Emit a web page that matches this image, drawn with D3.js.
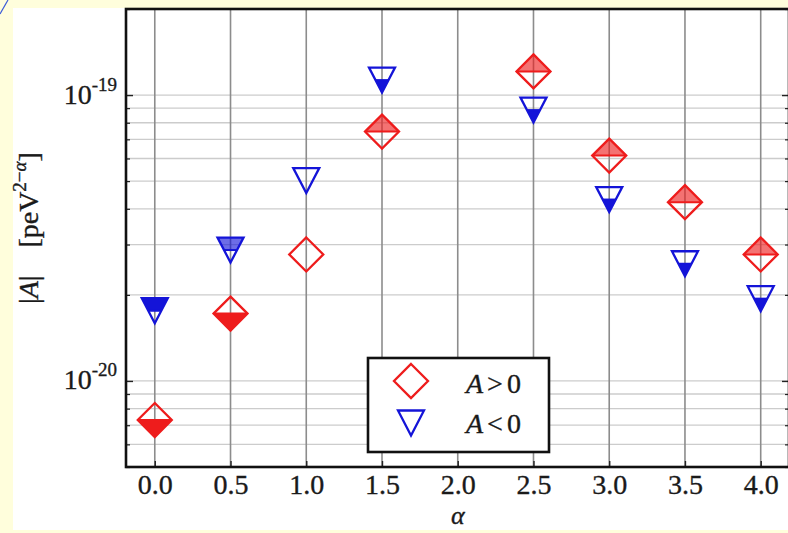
<!DOCTYPE html>
<html>
<head>
<meta charset="utf-8">
<script src="https://cdn.jsdelivr.net/npm/d3@7"></script>
<style>
  html, body { margin: 0; padding: 0; background: #fffedc; }
  svg { display: block; }
  text { stroke: #1a1a1a; stroke-width: 0.35px; }
</style>
</head>
<body>
<svg id="chart" width="788" height="533"></svg>
<script>
// ---- data ----
const alphas = [0.0, 0.5, 1.0, 1.5, 2.5, 3.0, 3.5, 4.0];
const posValues = [7.3e-21, 1.72e-20, 2.77e-20, 7.45e-20, 1.21e-19, 6.14e-20, 4.22e-20, 2.77e-20]; // A > 0
const negValues = [1.76e-20, 2.87e-20, 5.02e-20, 1.128e-19, 8.86e-20, 4.31e-20, 2.57e-20, 1.94e-20]; // A < 0
const posFill = ["lower", "lower", "none", "upperLight", "upperLight", "upperLight", "upperLight", "upperLight"];
const negFill = ["upper", "upperLight", "none", "lower", "lower", "lower", "lower", "lower"];
const xTicks = [0.0, 0.5, 1.0, 1.5, 2.0, 2.5, 3.0, 3.5, 4.0];
const yMajorTicks = [1e-20, 1e-19];
const yMajorLabels = ["-20", "-19"];
const seriesLabels = ["A > 0", "A < 0"];

(function () {
// ---- layout ----
const svg = d3.select("#chart");
const pL = 126, pT = 9, pR = 791, pB = 467;
const RED = "#ee1c1c", BLUE = "#1414d8";
const serif = "'Liberation Serif', 'DejaVu Serif', serif";

// background frame
svg.append("rect").attr("x", 0).attr("y", 0).attr("width", 788).attr("height", 533).attr("fill", "#fffedc");
svg.append("rect").attr("x", 13).attr("y", 8).attr("width", 775).attr("height", 522).attr("fill", "#ffffff");
svg.append("line").attr("x1", 0).attr("y1", 14).attr("x2", 8).attr("y2", 0).attr("stroke", "#3a5ad8").attr("stroke-width", 1.2);

const x = d3.scaleLinear().domain([-0.19, 4.2]).range([pL, pR]);
const y = d3.scaleLog().domain([5e-21, 2e-19]).range([pB, pT]);

// minor tick values
const yMinor = [];
for (let e = -21; e <= -19; e++) {
  for (let m = 2; m <= 9; m++) {
    const v = m * Math.pow(10, e);
    if (v >= 4.99e-21 && v <= 2.01e-19) yMinor.push(v);
  }
}
const yGrid = yMinor.filter(v => v < 1.9e-19).concat(yMajorTicks);

const defs = svg.append("defs");
defs.append("clipPath").attr("id", "plotClip").append("rect")
  .attr("x", pL).attr("y", pT).attr("width", pR - pL).attr("height", pB - pT);
defs.append("clipPath").attr("id", "clipUpper").append("rect")
  .attr("x", -40).attr("y", -40).attr("width", 80).attr("height", 40);
defs.append("clipPath").attr("id", "clipLower").append("rect")
  .attr("x", -40).attr("y", 0).attr("width", 80).attr("height", 40);

// grid
const grid = svg.append("g").attr("clip-path", "url(#plotClip)");
grid.selectAll("line.h").data(yGrid).enter().append("line")
  .attr("x1", pL).attr("x2", pR)
  .attr("y1", d => y(d)).attr("y2", d => y(d))
  .attr("stroke", "#cccccc").attr("stroke-width", 1.3);
grid.selectAll("line.v").data(xTicks).enter().append("line")
  .attr("x1", d => x(d)).attr("x2", d => x(d))
  .attr("y1", pT).attr("y2", pB)
  .attr("stroke", "#8c8c8c").attr("stroke-width", 1.6);

// axes (ticks inward)
const xAxis = svg.append("g").attr("transform", `translate(0,${pB})`)
  .call(d3.axisBottom(x).tickValues(xTicks).tickSize(-6).tickPadding(7).tickFormat(d3.format(".1f")));
xAxis.select(".domain").remove();
xAxis.selectAll("line").attr("stroke", "#222").attr("stroke-width", 1.4);
xAxis.selectAll("text").attr("font-family", serif).attr("font-size", 28).attr("fill", "#1a1a1a").attr("dy", "0.71em");

const yAxis = svg.append("g").attr("transform", `translate(${pL},0)`)
  .call(d3.axisLeft(y).tickValues(yMajorTicks).tickSize(-7).tickPadding(9).tickFormat(""));
yAxis.select(".domain").remove();
yAxis.selectAll("line").attr("stroke", "#222").attr("stroke-width", 1.4);
yAxis.selectAll(".tick").each(function(d, i) {
  const t = d3.select(this).append("text")
    .attr("x", -9).attr("y", 8).attr("text-anchor", "end")
    .attr("font-family", serif).attr("fill", "#1a1a1a");
  t.append("tspan").attr("font-size", 28).text("10");
  t.append("tspan").attr("font-size", 19).attr("dy", -13).text(yMajorLabels[i]);
});
const yMinorAxis = svg.append("g").attr("transform", `translate(${pL},0)`)
  .call(d3.axisLeft(y).tickValues(yMinor).tickSize(-4).tickFormat(""));
yMinorAxis.select(".domain").remove();
yMinorAxis.selectAll("line").attr("stroke", "#222").attr("stroke-width", 1.2);

const yAxisR = svg.append("g").attr("transform", `translate(${pR - 2},0)`)
  .call(d3.axisRight(y).tickValues(yMajorTicks).tickSize(-7).tickFormat(""));
yAxisR.select(".domain").remove();
yAxisR.selectAll("line").attr("stroke", "#222").attr("stroke-width", 1.4);
const yMinorR = svg.append("g").attr("transform", `translate(${pR - 2},0)`)
  .call(d3.axisRight(y).tickValues(yMinor).tickSize(-4).tickFormat(""));
yMinorR.select(".domain").remove();
yMinorR.selectAll("line").attr("stroke", "#222").attr("stroke-width", 1.2);

// spines
svg.append("rect").attr("x", pL).attr("y", pT).attr("width", pR - pL - 2).attr("height", pB - pT)
  .attr("fill", "none").attr("stroke", "#111").attr("stroke-width", 2.6);

// marker shapes
const R = 17;
const diamondPath = `M0,${-R} L${R},0 L0,${R} L${-R},0 Z`;
const TW = 13, TH = 12.5;
const triPath = `M${-TW},${-TH} L${TW},${-TH} L0,${TH} Z`;

function drawMarker(g, path, color, fill, halfW) {
  if (fill === "lower" || fill === "upper" || fill === "upperLight") {
    const clip = fill === "lower" ? "url(#clipLower)" : "url(#clipUpper)";
    g.append("path").attr("d", path).attr("fill", color)
      .attr("fill-opacity", fill === "upperLight" ? 0.62 : 1)
      .attr("clip-path", clip);
    g.append("line").attr("x1", -halfW).attr("x2", halfW).attr("y1", 0).attr("y2", 0)
      .attr("stroke", color).attr("stroke-width", 2);
  }
  g.append("path").attr("d", path).attr("fill", "none")
    .attr("stroke", color).attr("stroke-width", 2.3).attr("stroke-linejoin", "miter");
}

const marks = svg.append("g");
alphas.forEach((a, i) => {
  const gp = marks.append("g").attr("transform", `translate(${x(a)},${y(posValues[i])})`);
  drawMarker(gp, diamondPath, RED, posFill[i], R);
});
alphas.forEach((a, i) => {
  const gn = marks.append("g").attr("transform", `translate(${x(a)},${y(negValues[i])})`);
  drawMarker(gn, triPath, BLUE, negFill[i], TW / 2);
});

// legend
const lg = svg.append("g");
lg.append("rect").attr("x", 368).attr("y", 358).attr("width", 181).attr("height", 94)
  .attr("fill", "#ffffff").attr("stroke", "#111").attr("stroke-width", 2.6);
drawMarker(lg.append("g").attr("transform", "translate(411,381)"), diamondPath, RED, "none", R);
drawMarker(lg.append("g").attr("transform", "translate(411,423)"), triPath, BLUE, "none", TW / 2);
[393, 433].forEach((by, i) => {
  const parts = seriesLabels[i].split(" ");
  const t = lg.append("text").attr("x", 466).attr("y", by)
    .attr("font-family", serif).attr("font-size", 28).attr("fill", "#1a1a1a");
  t.append("tspan").attr("font-style", "italic").text(parts[0]);
  t.append("tspan").attr("dx", 4).text(parts[1]);
  t.append("tspan").attr("dx", 4).text(parts[2]);
});

// axis labels
svg.append("text").attr("x", x(2.0)).attr("y", 524).attr("text-anchor", "middle")
  .attr("font-family", serif).attr("font-size", 26).attr("font-style", "italic").attr("fill", "#1a1a1a")
  .text("α");

const yl = svg.append("text").attr("transform", "translate(38,228) rotate(-90)")
  .attr("text-anchor", "middle").attr("font-family", serif).attr("font-size", 28).attr("fill", "#1a1a1a");
yl.append("tspan").text("|");
yl.append("tspan").attr("font-style", "italic").text("A");
yl.append("tspan").text("|\u00a0\u00a0\u00a0\u00a0[peV");
yl.append("tspan").attr("font-size", 19).attr("dy", -12).text("2\u2212");
yl.append("tspan").attr("font-size", 19).attr("font-style", "italic").text("α");
yl.append("tspan").attr("dy", 12).text("]");
})();
</script>
</body>
</html>
